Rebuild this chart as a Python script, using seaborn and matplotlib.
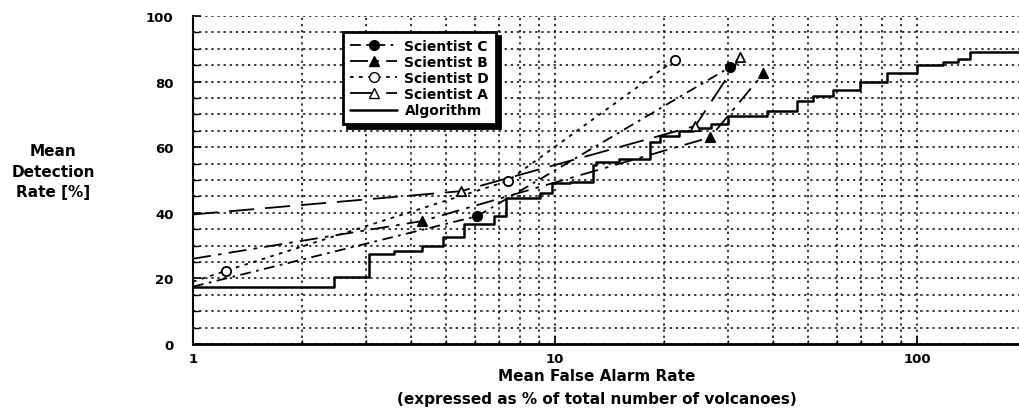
import matplotlib
matplotlib.use("Agg")
import matplotlib.pyplot as plt
from matplotlib.lines import Line2D
from matplotlib.ticker import FixedLocator, LogLocator, NullFormatter, FixedFormatter
import seaborn as sns

# algorithm curve (step function), false alarm % vs detection %
alg_x = [1.0, 2.45, 3.06, 3.6, 4.3, 4.9, 5.6, 6.8, 7.3, 9.1, 9.8, 11, 12.7, 13, 15,
         18.3, 19.5, 22, 24, 27, 30, 38.5, 46.6, 51.6, 58.6, 69.6, 82.6, 100, 118,
         130, 140, 191]
alg_y = [17.5, 20.5, 27.5, 28.5, 30, 32.5, 36.5, 39, 44.5, 46, 49, 49.5, 54.5, 55.5, 56.5,
         61.5, 63.5, 65, 66, 67, 69.5, 71, 74, 75.5, 77.5, 80, 82.5, 85, 86,
         87, 89, 89]

# scientists: first point is where the line leaves the left edge
sci_c_x = [1.0, 6.1, 30.5]
sci_c_y = [17.5, 39, 84.5]
sci_b_x = [1.0, 4.3, 26.8, 37.6]
sci_b_y = [26, 37.5, 63, 82.5]
sci_d_x = [1.0, 1.23, 7.4, 21.4]
sci_d_y = [19, 22.3, 49.7, 86.6]
sci_a_x = [1.0, 5.5, 24.4, 32.5]
sci_a_y = [39.5, 46.6, 66.5, 87.5]

y_ticks = [0, 20, 40, 60, 80, 100]
x_ticks = [1, 10, 100]

sns.set_style("white")
plt.rcParams['font.family'] = ['DejaVu Sans']
plt.rcParams['font.weight'] = 'bold'
plt.rcParams['text.color'] = 'black'
plt.rcParams['xtick.color'] = 'black'
plt.rcParams['ytick.color'] = 'black'

fig = plt.figure(figsize=(10.19, 4.10), dpi=100)
ax = fig.add_axes([0.1894, 0.1585, 0.8106, 0.80])

styles = {
    'Scientist C': dict(x=sci_c_x, y=sci_c_y, ls=(0, (6, 3, 1.5, 3)), marker='o', mfc='black'),
    'Scientist B': dict(x=sci_b_x, y=sci_b_y, ls=(0, (10, 4, 2, 4)), marker='^', mfc='black'),
    'Scientist D': dict(x=sci_d_x, y=sci_d_y, ls=(0, (2, 3)), marker='o', mfc='white'),
    'Scientist A': dict(x=sci_a_x, y=sci_a_y, ls=(0, (14, 6)), marker='^', mfc='white'),
}

handles = []
for name, st in styles.items():
    sns.lineplot(x=st['x'], y=st['y'], ax=ax, color='black', lw=1.3,
                 linestyle=st['ls'], sort=False, estimator=None)
    ax.scatter(st['x'][1:], st['y'][1:], marker=st['marker'], s=45,
               facecolor=st['mfc'], edgecolor='black', linewidth=1.3, zorder=5)
    handles.append(Line2D([], [], color='black', lw=1.3, linestyle=st['ls'],
                          marker=st['marker'], markersize=7, markerfacecolor=st['mfc'],
                          markeredgecolor='black', label=name))

sns.lineplot(x=alg_x, y=alg_y, ax=ax, color='black', lw=1.8,
             drawstyle='steps-post', sort=False, estimator=None)
handles.append(Line2D([], [], color='black', lw=1.8, label='Algorithm'))

ax.set_xscale('log')
ax.set_xlim(1, 191)
ax.set_ylim(0, 100)

ax.xaxis.set_major_locator(FixedLocator(x_ticks))
ax.xaxis.set_major_formatter(FixedFormatter([str(v) for v in x_ticks]))
ax.xaxis.set_minor_locator(LogLocator(base=10, subs=range(2, 10)))
ax.xaxis.set_minor_formatter(NullFormatter())
ax.set_yticks(y_ticks)
ax.set_yticks(range(0, 101, 5), minor=True)

grid_kw = dict(color='black', linestyle=(0, (1.5, 2.5)), linewidth=1.1)
ax.grid(True, which='both', axis='both', **grid_kw)
ax.set_axisbelow(True)

for side in ['top', 'right']:
    ax.spines[side].set_visible(False)
ax.spines['left'].set_linewidth(1.5)
ax.spines['bottom'].set_linewidth(2)
ax.spines['left'].set_color('black')
ax.spines['bottom'].set_color('black')

ax.tick_params(axis='both', which='both', direction='in', colors='black',
               labelsize=9.5, left=True, bottom=True)
ax.tick_params(axis='y', which='major', length=6, width=1.2, pad=14)
ax.tick_params(axis='y', which='minor', length=4, width=1)
ax.tick_params(axis='x', which='major', length=6, width=1.2, pad=6)
ax.tick_params(axis='x', which='minor', length=3, width=1)
for lab in ax.get_xticklabels() + ax.get_yticklabels():
    lab.set_fontweight('bold')

ax.set_xlabel('')
ax.set_ylabel('')
fig.text(0.586, 0.082, 'Mean False Alarm Rate', ha='center', va='center',
         fontsize=11, fontweight='bold')
fig.text(0.586, 0.025, '(expressed as % of total number of volcanoes)', ha='center',
         va='center', fontsize=11, fontweight='bold')
fig.text(0.052, 0.58, 'Mean\nDetection\nRate [%]', ha='center', va='center',
         fontsize=11, fontweight='bold', linespacing=1.45)

leg = ax.legend(handles=handles, loc='upper left', bbox_to_anchor=(0.182, 0.951),
                borderaxespad=0, fontsize=10, frameon=True, fancybox=False,
                handlelength=3.4, labelspacing=0.15, borderpad=0.5, handletextpad=0.5,
                shadow={'facecolor': 'black', 'edgecolor': 'black', 'alpha': 1,
                        'ox': 3, 'oy': -3})
leg.get_frame().set_edgecolor('black')
leg.get_frame().set_linewidth(2)
leg.get_frame().set_alpha(1)
for t in leg.get_texts():
    t.set_fontweight('bold')

fig.savefig('out.png', dpi=100)
